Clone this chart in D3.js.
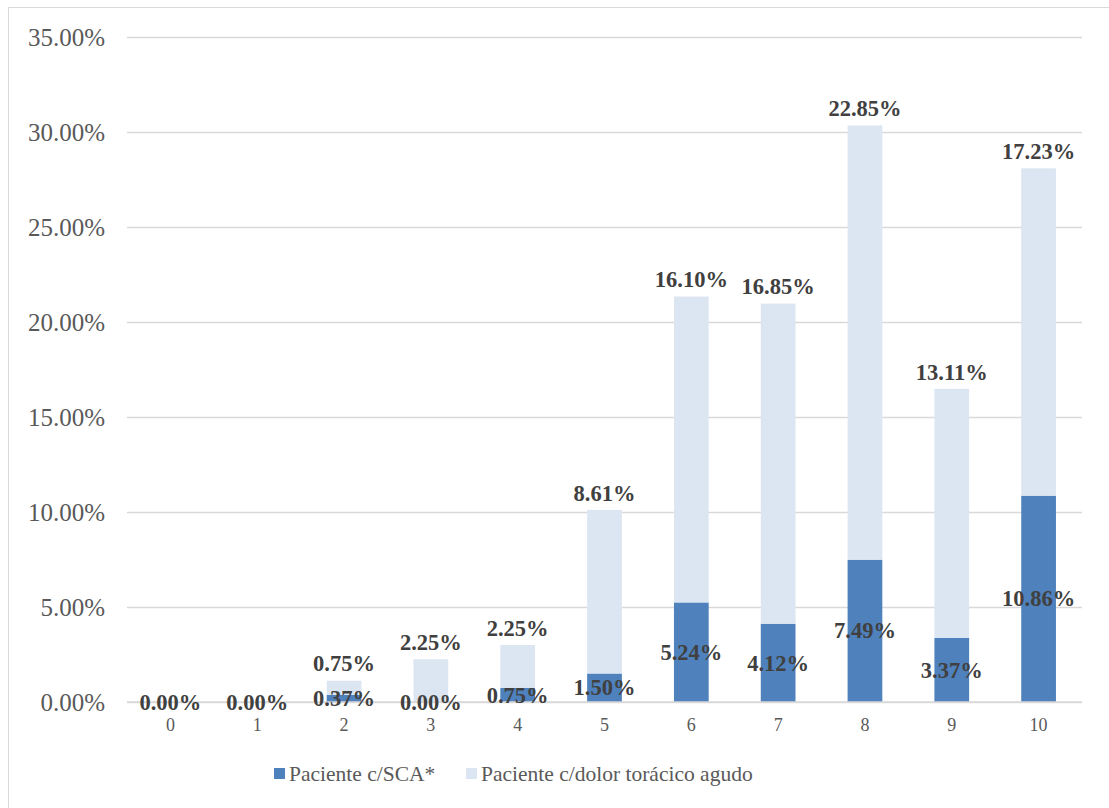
<!DOCTYPE html>
<html>
<head>
<meta charset="utf-8">
<script src="https://cdn.jsdelivr.net/npm/d3@7"></script>
<style>
  html, body { margin: 0; padding: 0; background: #fff; }
  svg { display: block; }
</style>
</head>
<body>
<svg id="chart" width="1109" height="808"></svg>
<script>
// Puntaje (0–10) y porcentaje de pacientes por grupo
const categories = ["0", "1", "2", "3", "4", "5", "6", "7", "8", "9", "10"];
const scaValues = [0.00, 0.00, 0.37, 0.00, 0.75, 1.50, 5.24, 4.12, 7.49, 3.37, 10.86];
const dolorValues = [0.00, 0.00, 0.75, 2.25, 2.25, 8.61, 16.10, 16.85, 22.85, 13.11, 17.23];
const yTicks = [0, 5, 10, 15, 20, 25, 30, 35];
const seriesNames = ["Paciente c/SCA*", "Paciente c/dolor torácico agudo"];

const colors = { sca: "#4f81bd", dolor: "#dce6f2", grid: "#d9d9d9", axisText: "#595959", label: "#404040" };
const serif = "'Liberation Serif', 'DejaVu Serif', serif";

const svg = d3.select("#chart");

// chart border (open to the right and bottom)
svg.append("rect")
  .attr("x", 8.5).attr("y", 7.5)
  .attr("width", 1120).attr("height", 820)
  .attr("fill", "none").attr("stroke", colors.grid).attr("stroke-width", 1);

const plot = { left: 127, right: 1082, top: 37, bottom: 702 };

const x = d3.scaleBand().domain(categories)
  .range([plot.left, plot.right])
  .paddingInner(0.6).paddingOuter(0.3);

const y = d3.scaleLinear().domain([0, 35]).range([plot.bottom, plot.top]);

// horizontal gridlines + y labels
const yAxis = d3.axisLeft(y)
  .tickValues(yTicks)
  .tickSize(-(plot.right - plot.left))
  .tickPadding(22)
  .tickFormat(d => d.toFixed(2) + "%");

const gy = svg.append("g")
  .attr("transform", `translate(${plot.left},0)`)
  .call(yAxis);
gy.select(".domain").remove();
gy.selectAll(".tick line").attr("stroke", colors.grid).attr("stroke-width", 1.5);
gy.selectAll(".tick text")
  .attr("fill", colors.axisText)
  .style("font-family", serif)
  .style("font-size", "25px");

// x axis labels
const xAxis = d3.axisBottom(x).tickSize(0).tickPadding(16);
const gx = svg.append("g")
  .attr("transform", `translate(0,${plot.bottom})`)
  .call(xAxis);
gx.select(".domain").remove();
gx.selectAll(".tick text")
  .attr("fill", colors.axisText)
  .style("font-family", serif)
  .style("font-size", "18px");

// stacked rows
const rows = categories.map((c, i) => ({ cat: c, sca: scaValues[i], dolor: dolorValues[i] }));
const stacked = d3.stack().keys(["sca", "dolor"])(rows);

const bars = svg.append("g");
stacked.forEach(layer => {
  bars.selectAll(null)
    .data(layer)
    .join("rect")
    .attr("x", d => x(d.data.cat))
    .attr("width", x.bandwidth())
    .attr("y", d => y(d[1]))
    .attr("height", d => y(d[0]) - y(d[1]))
    .attr("fill", layer.key === "sca" ? colors.sca : colors.dolor);
});

// zero baseline over bars
svg.append("line")
  .attr("x1", plot.left).attr("x2", plot.right)
  .attr("y1", y(0)).attr("y2", y(0))
  .attr("stroke", colors.grid).attr("stroke-width", 1.5);

// data labels
const labels = svg.append("g")
  .style("font-family", serif)
  .style("font-size", "22.5px")
  .style("font-weight", "bold")
  .attr("fill", colors.label)
  .attr("text-anchor", "middle");

// dark series: centred in its segment
labels.selectAll(null)
  .data(stacked[0])
  .join("text")
  .attr("x", d => x(d.data.cat) + x.bandwidth() / 2)
  .attr("y", d => (y(d[0]) + y(d[1])) / 2)
  .attr("dy", "0.34em")
  .text(d => d.data.sca.toFixed(2) + "%");

// light series: above the top of the stack
labels.selectAll(null)
  .data(stacked[1].filter(d => d.data.dolor > 0))
  .join("text")
  .attr("x", d => x(d.data.cat) + x.bandwidth() / 2)
  .attr("y", d => y(d[1]) - 17)
  .attr("dy", "0.34em")
  .text(d => d.data.dolor.toFixed(2) + "%");

// legend
const legend = svg.append("g");
const legendItems = [
  { name: seriesNames[0], color: colors.sca, x: 274 },
  { name: seriesNames[1], color: colors.dolor, x: 466 }
];
legendItems.forEach(it => {
  legend.append("rect")
    .attr("x", it.x).attr("y", 768)
    .attr("width", 11).attr("height", 11)
    .attr("fill", it.color);
  legend.append("text")
    .attr("x", it.x + 15).attr("y", 774)
    .attr("dy", "0.34em")
    .attr("fill", colors.axisText)
    .style("font-family", serif)
    .style("font-size", "21.5px")
    .text(it.name);
});
</script>
</body>
</html>
